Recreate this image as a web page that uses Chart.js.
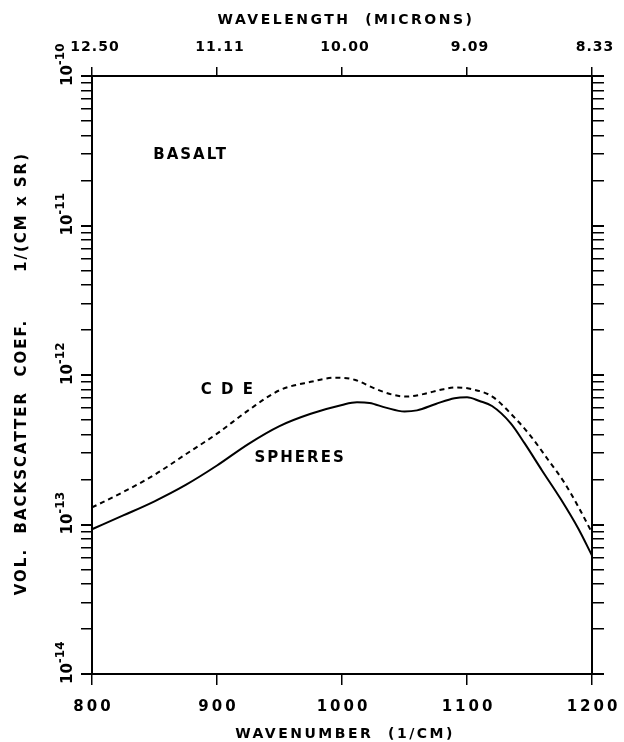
<!DOCTYPE html>
<html>
<head>
<meta charset="utf-8">
<script src="https://cdn.jsdelivr.net/npm/chart.js@4.4.1/dist/chart.umd.min.js"></script>
<style>
  html, body { margin: 0; padding: 0; background: #fff; }
  canvas { display: block; }
</style>
</head>
<body>
<canvas id="chart" width="624" height="742"></canvas>
<script>
// values (wavenumber in 1/cm, coefficient in 1/(cm sr))
const spheresX = [800, 825, 850, 875, 900, 925, 950, 975, 1000, 1012, 1022, 1035, 1050, 1060, 1075, 1090, 1100, 1110, 1120, 1135, 1146, 1160, 1175, 1189, 1200];
const spheresY = [9.3e-14, 1.15e-13, 1.43e-13, 1.84e-13, 2.48e-13, 3.45e-13, 4.55e-13, 5.5e-13, 6.3e-13, 6.56e-13, 6.5e-13, 6.05e-13, 5.7e-13, 5.8e-13, 6.4e-13, 7.0e-13, 7.1e-13, 6.7e-13, 6.2e-13, 4.75e-13, 3.5e-13, 2.3e-13, 1.48e-13, 9.4e-14, 6.2e-14];

const cdeX = [800, 825, 850, 875, 900, 925, 950, 975, 995, 1010, 1025, 1040, 1052, 1065, 1080, 1092, 1105, 1120, 1137, 1151, 1165, 1178, 1190, 1200];
const cdeY = [1.3e-13, 1.65e-13, 2.15e-13, 2.95e-13, 4.05e-13, 5.8e-13, 7.9e-13, 9.0e-13, 9.6e-13, 9.3e-13, 8.2e-13, 7.4e-13, 7.17e-13, 7.45e-13, 8.0e-13, 8.26e-13, 8.0e-13, 7.2e-13, 5.3e-13, 3.9e-13, 2.7e-13, 1.9e-13, 1.27e-13, 8.8e-14];

// axis ticks
const wavenumberTicks = [800, 900, 1000, 1100, 1200];
const wavelengthLabels = ['12.50', '11.11', '10.00', '9.09', '8.33'];
const decadeExps = [-14, -13, -12, -11, -10];
const minorSteps = [1, 2, 3, 4, 5, 6, 7, 8, 9];

// annotations on the plot
const curveNotes = [
  { text: 'BASALT', x: 849, y: 2.96e-11 },
  { text: 'C D E', x: 887, y: 7.9e-13 },
  { text: 'SPHERES', x: 930, y: 2.8e-13 }
];

const FONT = '"DejaVu Sans", sans-serif';

function logTicks() {
  const out = [];
  decadeExps.forEach(e => {
    if (e === decadeExps[decadeExps.length - 1]) {
      out.push({ value: Math.pow(10, e), major: true });
      return;
    }
    minorSteps.forEach(m => out.push({ value: m * Math.pow(10, e), major: m === 1 }));
  });
  return out;
}

function axisGrid(len) {
  return {
    drawOnChartArea: false,
    drawTicks: true,
    tickLength: len,
    color: '#000',
    lineWidth: ctx => (ctx.tick && ctx.tick.major ? 2 : 1.5)
  };
}

const textPlugin = {
  id: 'texts',
  afterDraw(chart) {
    const ctx = chart.ctx;
    const xs = chart.scales.x;
    const ys = chart.scales.y;
    ctx.save();
    ctx.fillStyle = '#000';

    // bottom tick labels
    ctx.font = 'bold 15px ' + FONT;
    ctx.letterSpacing = '3px';
    ctx.textAlign = 'center';
    ctx.textBaseline = 'middle';
    wavenumberTicks.forEach(v => {
      ctx.fillText(String(v), xs.getPixelForValue(v) + 1.5, 707);
    });

    // top tick labels (wavelength)
    ctx.font = 'bold 14px ' + FONT;
    ctx.letterSpacing = '1px';
    wavenumberTicks.forEach((v, i) => {
      ctx.fillText(wavelengthLabels[i], xs.getPixelForValue(v) + 3, 47);
    });

    // axis titles
    ctx.font = 'bold 14px ' + FONT;
    ctx.letterSpacing = '2.5px';
    ctx.fillText('WAVELENGTH  (MICRONS)', 346, 20);
    ctx.fillText('WAVENUMBER  (1/CM)', 345, 734);

    ctx.save();
    ctx.translate(22, 457);
    ctx.rotate(-Math.PI / 2);
    ctx.font = 'bold 15px ' + FONT;
    ctx.letterSpacing = '2px';
    ctx.fillText('VOL.  BACKSCATTER  COEF.', 0, 0);
    ctx.restore();
    ctx.save();
    ctx.translate(22, 212);
    ctx.rotate(-Math.PI / 2);
    ctx.font = 'bold 15px ' + FONT;
    ctx.letterSpacing = '2px';
    ctx.fillText('1/(CM x SR)', 0, 0);
    ctx.restore();

    // y tick labels, rotated, 10 with superscript exponent
    ctx.textAlign = 'left';
    ctx.textBaseline = 'alphabetic';
    decadeExps.forEach(e => {
      const py = ys.getPixelForValue(Math.pow(10, e));
      ctx.save();
      ctx.translate(72, py + 10);
      ctx.rotate(-Math.PI / 2);
      ctx.font = 'bold 15px ' + FONT;
      ctx.letterSpacing = '0px';
      ctx.fillText('10', 0, 0);
      const w = ctx.measureText('10').width;
      ctx.font = 'bold 12px ' + FONT;
      ctx.fillText('-' + Math.abs(e), w, -8);
      ctx.restore();
    });

    // curve annotations
    ctx.font = 'bold 15px ' + FONT;
    ctx.letterSpacing = '2px';
    ctx.textAlign = 'left';
    ctx.textBaseline = 'middle';
    curveNotes.forEach(n => {
      ctx.fillText(n.text, xs.getPixelForValue(n.x), ys.getPixelForValue(n.y));
    });

    ctx.restore();
  }
};

new Chart(document.getElementById('chart'), {
  type: 'line',
  data: {
    datasets: [
      {
        label: 'SPHERES',
        data: spheresX.map((x, i) => ({ x: x, y: spheresY[i] })),
        borderColor: '#000',
        borderWidth: 2,
        pointRadius: 0,
        fill: false,
        cubicInterpolationMode: 'monotone'
      },
      {
        label: 'CDE',
        data: cdeX.map((x, i) => ({ x: x, y: cdeY[i] })),
        borderColor: '#000',
        borderWidth: 2,
        borderDash: [5, 4],
        pointRadius: 0,
        fill: false,
        cubicInterpolationMode: 'monotone'
      }
    ]
  },
  options: {
    responsive: false,
    animation: false,
    devicePixelRatio: 1,
    layout: { padding: 0 },
    plugins: { legend: { display: false }, tooltip: { enabled: false } },
    scales: {
      x: {
        type: 'linear', position: 'bottom', min: 800, max: 1200,
        ticks: { display: false, stepSize: 100 },
        grid: axisGrid(11),
        border: { display: true, color: '#000', width: 2 },
        afterFit(s) { s.height = 68; }
      },
      x2: {
        type: 'linear', position: 'top', min: 800, max: 1200,
        ticks: { display: false, stepSize: 100 },
        grid: axisGrid(9),
        border: { display: true, color: '#000', width: 2 },
        afterFit(s) { s.height = 76; }
      },
      y: {
        type: 'logarithmic', position: 'left', min: 1e-14, max: 1e-10,
        ticks: { display: false },
        afterBuildTicks(s) { s.ticks = logTicks(); },
        grid: axisGrid(11),
        border: { display: true, color: '#000', width: 2 },
        afterFit(s) { s.width = 92; }
      },
      y2: {
        type: 'logarithmic', position: 'right', min: 1e-14, max: 1e-10,
        ticks: { display: false },
        afterBuildTicks(s) { s.ticks = logTicks(); },
        grid: axisGrid(12),
        border: { display: true, color: '#000', width: 2 },
        afterFit(s) { s.width = 32; }
      }
    }
  },
  plugins: [textPlugin]
});
</script>
</body>
</html>
